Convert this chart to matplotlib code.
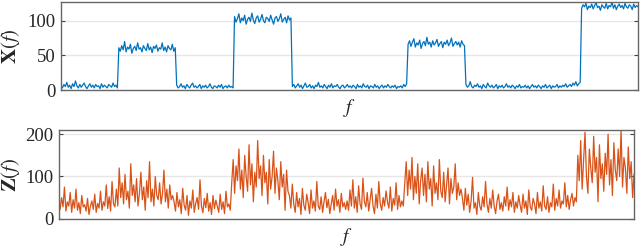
import numpy as np
import matplotlib
matplotlib.use("Agg")
import matplotlib.pyplot as plt

plt.rcParams['font.family'] = ['Liberation Serif', 'DejaVu Serif']
plt.rcParams['mathtext.fontset'] = 'stix'

# magnitude of X(f), 10 blocks of 40 samples
x_mag = [
    6, 3, 8, 5, 11, 4, 7, 2, 9, 5, 13, 6, 3, 8, 4, 7, 10, 5, 2, 6, 9, 4, 7, 3, 8, 5, 6, 2, 9, 4, 7, 5, 3, 8, 6, 4, 10, 5, 7, 3,
    61, 56, 64, 58, 70, 55, 62, 59, 66, 53, 60, 63, 57, 68, 59, 61, 55, 64, 60, 57, 67, 58, 62, 54, 63, 60, 65, 56, 61, 59, 68, 57, 62, 55, 64, 60, 58, 66, 56, 61,
    7, 3, 5, 9, 4, 6, 2, 8, 5, 3, 7, 10, 4, 6, 3, 5, 8, 2, 6, 4, 7, 3, 5, 9, 4, 2, 6, 5, 3, 7, 4, 8, 2, 5, 6, 3, 7, 4, 5, 3,
    106, 98, 103, 110, 97, 104, 100, 108, 95, 102, 105, 99, 111, 101, 96, 104, 107, 98, 102, 109, 100, 97, 105, 103, 99, 108, 101, 95, 104, 106, 99, 103, 110, 98, 102, 105, 97, 107, 101, 104,
    5, 8, 3, 6, 9, 4, 7, 2, 6, 10, 4, 5, 8, 3, 6, 2, 7, 5, 11, 4, 6, 3, 8, 5, 2, 7, 4, 9, 3, 6, 5, 8, 4, 2, 6, 7, 3, 5, 8, 4,
    6, 3, 7, 5, 2, 8, 4, 6, 3, 9, 5, 4, 7, 2, 6, 5, 3, 8, 4, 6, 2, 5, 7, 3, 6, 4, 8, 5, 3, 6, 4, 7, 2, 5, 4, 6, 3, 8, 5, 9,
    66, 71, 63, 69, 74, 62, 68, 65, 72, 60, 67, 70, 64, 76, 66, 69, 62, 71, 65, 68, 73, 63, 67, 70, 61, 69, 66, 72, 64, 68, 75, 63, 67, 70, 65, 69, 62, 71, 66, 64,
    8, 4, 6, 12, 5, 3, 7, 5, 9, 4, 6, 2, 8, 5, 3, 10, 6, 4, 7, 3, 5, 8, 2, 6, 4, 7, 3, 5, 9, 4, 6, 3, 7, 5, 2, 6, 4, 8, 3, 5,
    4, 7, 3, 6, 2, 5, 8, 4, 6, 3, 7, 5, 2, 6, 4, 8, 3, 5, 7, 2, 6, 4, 5, 8, 3, 6, 4, 7, 5, 9, 4, 6, 8, 5, 10, 7, 12, 6, 9, 11,
    118, 123, 120, 125, 116, 121, 119, 124, 117, 122, 126, 119, 121, 115, 123, 120, 118, 125, 117, 122, 120, 127, 118, 123, 116, 121, 124, 119, 122, 117, 125, 120, 118, 123, 121, 116, 124, 119, 122, 120,
]

# magnitude of Z(f), same blocks
z_mag = [
    35, 22, 50, 28, 75, 18, 40, 30, 62, 15, 45, 25, 70, 20, 38, 12, 55, 28, 33, 18, 48, 10, 30, 42, 22, 58, 15, 36, 25, 65, 20, 40, 30, 80, 24, 52, 18, 88, 35, 28,
    70, 30, 120, 50, 85, 35, 105, 45, 65, 25, 130, 55, 80, 40, 95, 30, 60, 110, 45, 75, 20, 90, 50, 135, 40, 70, 30, 100, 55, 45, 85, 35, 60, 115, 40, 70, 25, 80, 45, 55,
    40, 18, 62, 28, 45, 12, 72, 32, 20, 55, 8, 42, 25, 68, 15, 36, 50, 22, 92, 30, 14, 48, 26, 60, 18, 38, 10, 55, 24, 44, 30, 15, 58, 22, 40, 12, 65, 28, 35, 20,
    85, 140, 60, 125, 90, 165, 70, 115, 50, 150, 100, 65, 175, 80, 130, 40, 110, 75, 185, 95, 125, 55, 150, 85, 110, 35, 140, 70, 100, 160, 60, 120, 90, 45, 135, 75, 105, 20, 115, 65,
    55, 25, 82, 35, 15, 62, 28, 48, 10, 72, 32, 20, 58, 38, 12, 68, 25, 42, 18, 88, 30, 22, 52, 15, 40, 62, 26, 46, 12, 35, 55, 20, 70, 30, 45, 15, 60, 28, 38, 22,
    42, 20, 68, 30, 92, 25, 52, 15, 78, 35, 22, 96, 40, 28, 62, 18, 45, 72, 30, 12, 58, 25, 88, 35, 20, 50, 30, 66, 40, 25, 75, 18, 48, 32, 85, 22, 55, 28, 42, 30,
    85, 135, 55, 115, 70, 145, 45, 100, 60, 130, 35, 90, 120, 55, 105, 40, 135, 70, 95, 30, 125, 60, 85, 45, 140, 65, 50, 110, 40, 80, 120, 35, 95, 60, 75, 130, 45, 85, 55, 70,
    48, 20, 72, 32, 58, 15, 42, 98, 25, 38, 10, 62, 30, 20, 52, 28, 88, 35, 15, 48, 25, 68, 30, 12, 42, 58, 22, 38, 18, 52, 30, 75, 20, 45, 28, 62, 15, 40, 25, 55,
    32, 15, 58, 25, 42, 10, 68, 28, 20, 48, 35, 12, 62, 25, 40, 18, 78, 30, 22, 52, 15, 38, 28, 82, 20, 48, 30, 68, 25, 42, 35, 85, 28, 55, 22, 45, 60, 30, 50, 40,
    150, 90, 185, 70, 135, 205, 100, 60, 165, 120, 85, 195, 110, 145, 40, 175, 95, 130, 65, 155, 105, 200, 80, 140, 55, 180, 115, 90, 165, 100, 210, 75, 145, 120, 60, 170, 95, 135, 50, 105,
]

x_ticks = [0, 50, 100]
z_ticks = [0, 100, 200]

fig = plt.figure(figsize=(6.4, 2.47), dpi=100)
ax1 = fig.add_axes([0.0953, 0.6356, 0.9016, 0.3563])
ax2 = fig.add_axes([0.0917, 0.1146, 0.899, 0.359])

def style(ax, n, ticks, top):
    ax.set_xlim(0, n - 1)
    ax.set_ylim(0, top)
    ax.set_xticks([])
    ax.set_yticks(ticks)
    ax.tick_params(axis='y', direction='in', length=3, right=True, labelsize=13.5,
                   color='#444444', labelcolor='#262626', pad=4)
    ax.grid(axis='y', color='#e6e6e6', linewidth=1)
    ax.set_axisbelow(True)
    for s in ax.spines.values():
        s.set_color('#666666')
        s.set_linewidth(1.0)
    ax.set_xlabel(r'$f$', fontsize=14, labelpad=5, color='#262626')

f1 = np.arange(len(x_mag))
ax1.plot(f1, x_mag, color='#0072BD', linewidth=0.9)
style(ax1, len(x_mag), x_ticks, 127)
ax1.set_ylabel(r'$\mathbf{X}(f)$', fontsize=15, color='#262626')
ax1.yaxis.set_label_coords(-0.068, 0.5)

f2 = np.arange(len(z_mag))
ax2.plot(f2, z_mag, color='#D95319', linewidth=0.9)
style(ax2, len(z_mag), z_ticks, 210)
ax2.set_ylabel(r'$\mathbf{Z}(f)$', fontsize=15, color='#262626')
ax2.yaxis.set_label_coords(-0.064, 0.5)

fig.savefig('out.png', dpi=100)
